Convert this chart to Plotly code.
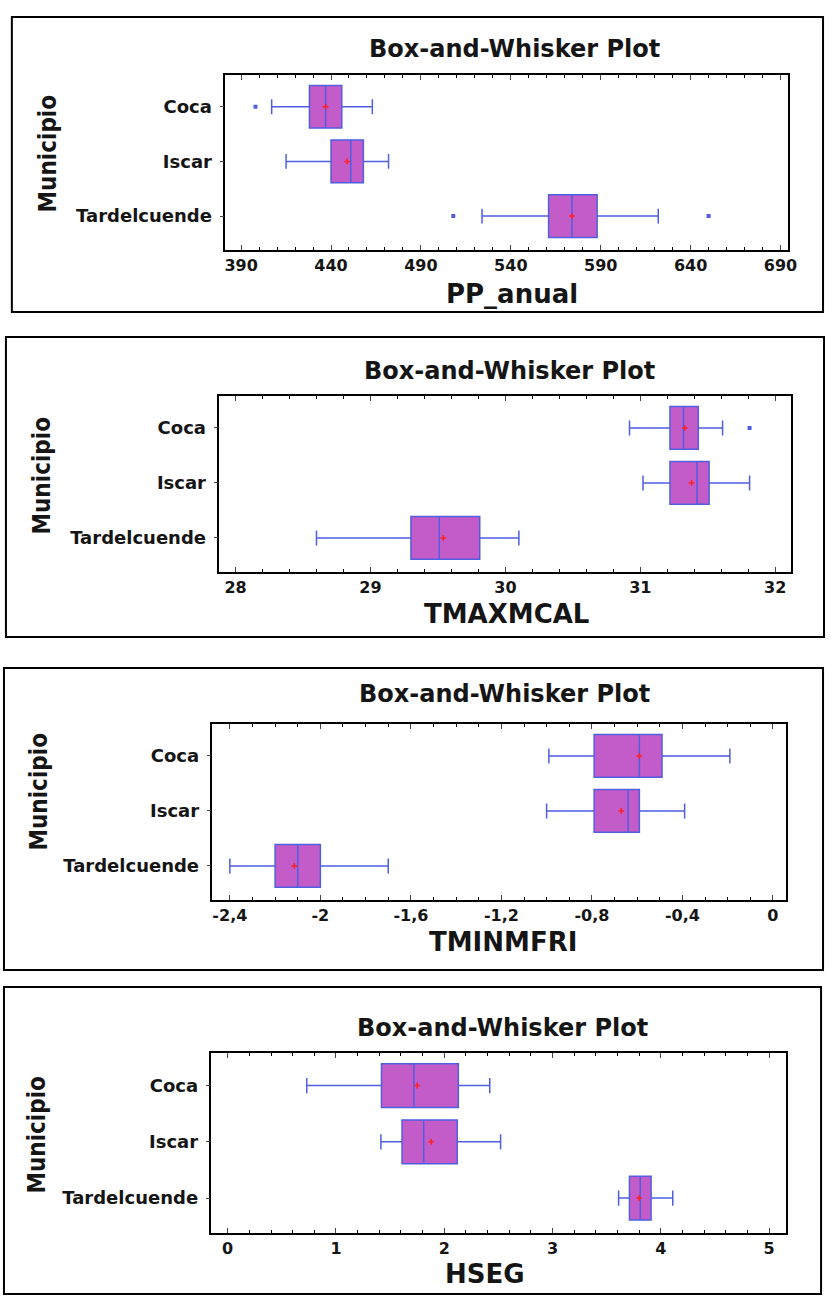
import plotly.graph_objects as go

W, H = 834, 1301

# ---------------- data ----------------
municipios = ["Coca", "Iscar", "Tardelcuende"]

pp_q1 = [428, 440, 561]
pp_median = [437, 451, 574]
pp_q3 = [446, 458, 588]
pp_low = [407, 415, 524]
pp_high = [463, 472, 622]
pp_mean = [437, 449, 574]
pp_out_cat = ["Coca", "Tardelcuende", "Tardelcuende"]
pp_out_val = [398, 508, 650]

tmax_q1 = [31.22, 31.22, 29.30]
tmax_median = [31.32, 31.42, 29.51]
tmax_q3 = [31.43, 31.51, 29.81]
tmax_low = [30.92, 31.02, 28.60]
tmax_high = [31.61, 31.81, 30.10]
tmax_mean = [31.33, 31.38, 29.54]
tmax_out_cat = ["Coca"]
tmax_out_val = [31.81]

tmin_q1 = [-0.79, -0.79, -2.20]
tmin_median = [-0.59, -0.64, -2.10]
tmin_q3 = [-0.49, -0.59, -2.00]
tmin_low = [-0.99, -1.00, -2.40]
tmin_high = [-0.19, -0.39, -1.70]
tmin_mean = [-0.59, -0.67, -2.115]
tmin_out_cat = []
tmin_out_val = []

hseg_q1 = [1.42, 1.61, 3.71]
hseg_median = [1.72, 1.81, 3.81]
hseg_q3 = [2.13, 2.12, 3.91]
hseg_low = [0.73, 1.415, 3.61]
hseg_high = [2.42, 2.52, 4.11]
hseg_mean = [1.75, 1.88, 3.80]
hseg_out_cat = []
hseg_out_val = []

pp_ticks = [390, 440, 490, 540, 590, 640, 690]
pp_ticktext = ["390", "440", "490", "540", "590", "640", "690"]
tmax_ticks = [28, 29, 30, 31, 32]
tmax_ticktext = ["28", "29", "30", "31", "32"]
tmin_ticks = [-2.4, -2.0, -1.6, -1.2, -0.8, -0.4, 0]
tmin_ticktext = ["-2,4", "-2", "-1,6", "-1,2", "-0,8", "-0,4", "0"]
hseg_ticks = [0, 1, 2, 3, 4, 5]
hseg_ticktext = ["0", "1", "2", "3", "4", "5"]

variables = ["PP_anual", "TMAXMCAL", "TMINMFRI", "HSEG"]
# ---------------------------------------

stats = [
    (pp_q1, pp_median, pp_q3, pp_low, pp_high, pp_mean, pp_out_cat, pp_out_val,
     pp_ticks, pp_ticktext, [381.2, 694.4], 10),
    (tmax_q1, tmax_median, tmax_q3, tmax_low, tmax_high, tmax_mean, tmax_out_cat, tmax_out_val,
     tmax_ticks, tmax_ticktext, [27.88, 32.12], 0.2),
    (tmin_q1, tmin_median, tmin_q3, tmin_low, tmin_high, tmin_mean, tmin_out_cat, tmin_out_val,
     tmin_ticks, tmin_ticktext, [-2.477, 0.06], 0.1),
    (hseg_q1, hseg_median, hseg_q3, hseg_low, hseg_high, hseg_mean, hseg_out_cat, hseg_out_val,
     hseg_ticks, hseg_ticktext, [-0.15, 5.16], 0.2),
]

# pixel layout of each panel
panels = [
    dict(frame=(11, 17, 832, 312), plot=(227, 75, 797, 250), title=(520, 49), xlab=(517, 294), mun=(48, 153)),
    dict(frame=(5, 337, 833, 637), plot=(221, 396, 800, 572), title=(515, 371), xlab=(512, 614), mun=(42, 475)),
    dict(frame=(3, 668, 832, 970), plot=(214, 724, 795, 900), title=(510, 694), xlab=(508, 942), mun=(38, 792)),
    dict(frame=(3, 987, 830, 1294), plot=(213, 1053, 795, 1233), title=(508, 1028), xlab=(490, 1274), mun=(36, 1135)),
]

FONT = "DejaVu Sans, Verdana, sans-serif"
NARROW = "Liberation Sans Narrow, DejaVu Sans Condensed, Liberation Sans, sans-serif"
FILL = "#c35cc9"
LINE = "#4f5fe0"
INK = "#151515"

def px(x):
    return x / W

def py(y):
    return 1 - y / H

fig = go.Figure()
shapes = []
annotations = []
layout_axes = {}

for i, (st, pn) in enumerate(zip(stats, panels)):
    q1, med, q3, lo, hi, mean, ocat, oval, tv, tt, rng, minor_dt = st
    n = "" if i == 0 else str(i + 1)
    xa, ya = "x" + n, "y" + n
    fig.add_trace(go.Box(
        y=municipios, q1=q1, median=med, q3=q3, lowerfence=lo, upperfence=hi,
        orientation="h", boxpoints=False, fillcolor=FILL, width=0.78,
        line=dict(color=LINE, width=1.5), whiskerwidth=0.35,
        xaxis=xa, yaxis=ya, showlegend=False, hoverinfo="skip",
    ))
    fig.add_trace(go.Scatter(
        x=mean, y=municipios, mode="markers",
        marker=dict(symbol="cross-thin", size=4, line=dict(color="#ff2020", width=1.5)),
        xaxis=xa, yaxis=ya, showlegend=False, hoverinfo="skip",
    ))
    if oval:
        fig.add_trace(go.Scatter(
            x=oval, y=ocat, mode="markers",
            marker=dict(symbol="square", size=4, color=LINE),
            xaxis=xa, yaxis=ya, showlegend=False, hoverinfo="skip",
        ))

    x0, y0, x1, y1 = pn["plot"]
    layout_axes["xaxis" + n] = dict(
        domain=[px(x0), px(x1)], anchor=ya, range=rng,
        tickvals=tv, ticktext=tt, ticks="inside", ticklen=5, tickwidth=1,
        showline=True, linecolor="black", linewidth=1.5, mirror="ticks",
        showgrid=False, zeroline=False,
        minor=dict(ticks="inside", dtick=minor_dt, tick0=tv[0], ticklen=3, tickcolor="black"),
        tickfont=dict(family=FONT, size=16, color=INK, weight="bold"),
    )
    layout_axes["yaxis" + n] = dict(
        domain=[py(y1), py(y0)], anchor=xa,
        categoryorder="array", categoryarray=municipios, range=[2.62, -0.58],
        ticks="outside", ticklen=4, showline=True, linecolor="black", linewidth=1.5,
        mirror=True, showgrid=False, zeroline=False, ticklabelstandoff=4,
        tickfont=dict(family=FONT, size=18, color=INK, weight="bold"),
    )

    fx0, fy0, fx1, fy1 = pn["frame"]
    shapes.append(dict(type="rect", xref="paper", yref="paper",
                       x0=px(fx0), x1=px(fx1), y0=py(fy1), y1=py(fy0),
                       line=dict(color="black", width=2)))
    annotations.append(dict(text="Box-and-Whisker Plot", x=px(pn["title"][0]), y=py(pn["title"][1]),
                            xref="paper", yref="paper", showarrow=False,
                            xanchor="center", yanchor="middle",
                            font=dict(family=FONT, size=24, color=INK, weight="bold")))
    annotations.append(dict(text=variables[i], x=px(pn["xlab"][0]), y=py(pn["xlab"][1]),
                            xref="paper", yref="paper", showarrow=False,
                            xanchor="center", yanchor="middle",
                            font=dict(family=FONT, size=26, color=INK, weight="bold")))
    annotations.append(dict(text="Municipio", x=px(pn["mun"][0]), y=py(pn["mun"][1]),
                            xref="paper", yref="paper", showarrow=False, textangle=-90,
                            xanchor="center", yanchor="middle",
                            font=dict(family=NARROW, size=24, color=INK, weight="bold")))

fig.update_layout(
    width=W, height=H, margin=dict(l=0, r=0, t=0, b=0),
    paper_bgcolor="white", plot_bgcolor="white",
    separators=",.",
    shapes=shapes, annotations=annotations, showlegend=False,
    **layout_axes,
)

fig.write_html(
    "out.html",
    config={"displayModeBar": False},
    post_script=(
        "document.body.style.margin='0px';"
        "document.body.style.overflow='hidden';"
        "document.documentElement.style.overflow='hidden';"
    ),
)
